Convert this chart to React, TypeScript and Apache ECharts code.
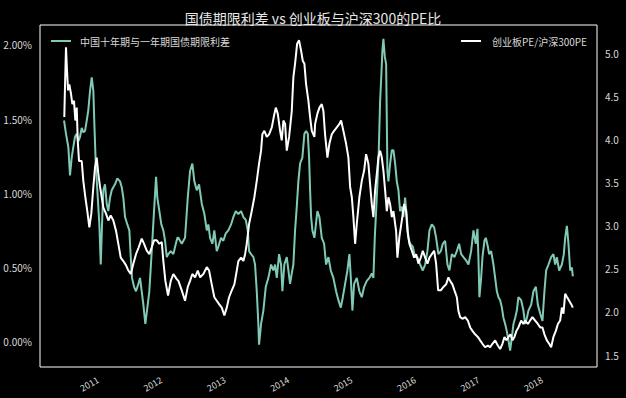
import React, { useEffect, useRef } from "react";
import * as echarts from "echarts";

const TITLE = "国债期限利差 vs 创业板与沪深300的PE比";
const SPREAD_NAME = "中国十年期与一年期国债期限利差";
const PE_NAME = "创业板PE/沪深300PE";

const YEAR_TICKS = [2011, 2012, 2013, 2014, 2015, 2016, 2017, 2018];
const LEFT_TICKS = [0, 0.5, 1, 1.5, 2];
const RIGHT_TICKS = [1.5, 2, 2.5, 3, 3.5, 4, 4.5, 5];

// [decimal year, spread %]
const spreadData: [number, number][] = [
  [2010.464,1.49],[2010.495,1.40],[2010.532,1.31],[2010.558,1.12],[2010.585,1.24],[2010.610,1.31],[2010.637,1.38],[2010.664,1.40],[2010.689,1.35],[2010.716,1.38],[2010.743,1.44],[2010.768,1.41],[2010.795,1.42],[2010.822,1.49],[2010.847,1.56],[2010.874,1.69],[2010.901,1.78],[2010.926,1.69],[2010.942,1.47],[2010.964,1.20],[2010.989,1.02],[2011.021,0.79],[2011.043,0.52],[2011.063,0.79],[2011.084,1.02],[2011.110,1.06],[2011.137,0.93],[2011.162,0.88],[2011.189,0.97],[2011.216,1.02],[2011.241,1.04],[2011.268,1.06],[2011.304,1.10],[2011.347,1.08],[2011.374,1.04],[2011.399,0.97],[2011.426,0.84],[2011.462,0.79],[2011.494,0.75],[2011.516,0.57],[2011.536,0.43],[2011.568,0.37],[2011.599,0.34],[2011.636,0.39],[2011.662,0.43],[2011.689,0.34],[2011.715,0.25],[2011.746,0.12],[2011.778,0.23],[2011.809,0.34],[2011.847,0.61],[2011.883,0.88],[2011.915,1.11],[2011.935,0.97],[2011.967,0.88],[2011.998,0.79],[2012.030,0.75],[2012.057,0.68],[2012.084,0.57],[2012.109,0.59],[2012.147,0.61],[2012.188,0.59],[2012.215,0.64],[2012.251,0.70],[2012.267,0.70],[2012.320,0.66],[2012.372,0.70],[2012.415,0.97],[2012.451,1.15],[2012.487,1.20],[2012.519,1.08],[2012.557,1.02],[2012.593,1.06],[2012.636,0.93],[2012.677,0.86],[2012.715,0.75],[2012.740,0.79],[2012.767,0.70],[2012.803,0.66],[2012.834,0.75],[2012.872,0.61],[2012.897,0.64],[2012.940,0.70],[2012.976,0.68],[2013.014,0.73],[2013.055,0.75],[2013.098,0.79],[2013.134,0.84],[2013.172,0.88],[2013.213,0.86],[2013.256,0.88],[2013.292,0.84],[2013.330,0.82],[2013.361,0.75],[2013.382,0.61],[2013.413,0.59],[2013.450,0.57],[2013.476,0.52],[2013.503,0.34],[2013.528,0.12],[2013.539,-0.02],[2013.571,0.12],[2013.607,0.21],[2013.645,0.37],[2013.686,0.43],[2013.729,0.52],[2013.765,0.48],[2013.792,0.52],[2013.819,0.43],[2013.855,0.59],[2013.886,0.52],[2013.907,0.34],[2013.938,0.52],[2013.976,0.57],[2014.002,0.48],[2014.028,0.39],[2014.055,0.46],[2014.080,0.52],[2014.107,0.75],[2014.134,0.91],[2014.159,1.08],[2014.186,1.20],[2014.222,1.24],[2014.254,1.40],[2014.281,1.42],[2014.308,1.40],[2014.328,1.24],[2014.344,1.02],[2014.360,0.84],[2014.380,0.75],[2014.412,0.70],[2014.459,0.88],[2014.491,0.84],[2014.528,0.70],[2014.565,0.66],[2014.596,0.52],[2014.633,0.57],[2014.670,0.48],[2014.711,0.43],[2014.754,0.34],[2014.790,0.28],[2014.828,0.23],[2014.860,0.30],[2014.896,0.39],[2014.932,0.48],[2014.964,0.59],[2014.986,0.43],[2015.011,0.21],[2015.038,0.39],[2015.080,0.43],[2015.121,0.34],[2015.159,0.30],[2015.196,0.37],[2015.238,0.41],[2015.279,0.43],[2015.317,0.46],[2015.342,0.43],[2015.364,0.70],[2015.385,0.88],[2015.405,1.06],[2015.427,1.29],[2015.448,1.62],[2015.468,1.80],[2015.484,1.96],[2015.500,2.04],[2015.522,1.92],[2015.543,1.87],[2015.563,1.15],[2015.579,1.08],[2015.606,1.20],[2015.633,1.29],[2015.658,1.29],[2015.685,1.20],[2015.711,1.08],[2015.737,1.02],[2015.763,0.88],[2015.790,0.91],[2015.815,0.84],[2015.842,0.97],[2015.869,0.84],[2015.894,0.70],[2015.921,0.66],[2015.964,0.64],[2016.000,0.57],[2016.036,0.57],[2016.079,0.52],[2016.121,0.48],[2016.158,0.52],[2016.194,0.61],[2016.226,0.75],[2016.263,0.79],[2016.300,0.77],[2016.331,0.70],[2016.367,0.59],[2016.405,0.61],[2016.437,0.66],[2016.473,0.68],[2016.510,0.52],[2016.541,0.48],[2016.579,0.59],[2016.620,0.57],[2016.658,0.61],[2016.694,0.66],[2016.726,0.59],[2016.762,0.57],[2016.800,0.55],[2016.841,0.52],[2016.883,0.61],[2016.920,0.75],[2016.957,0.66],[2016.983,0.76],[2016.998,0.57],[2017.014,0.30],[2017.041,0.43],[2017.062,0.57],[2017.093,0.68],[2017.115,0.70],[2017.147,0.64],[2017.167,0.59],[2017.199,0.61],[2017.235,0.52],[2017.262,0.43],[2017.289,0.34],[2017.314,0.30],[2017.341,0.28],[2017.368,0.23],[2017.393,0.16],[2017.420,0.12],[2017.446,0.07],[2017.472,0.01],[2017.498,-0.06],[2017.525,0.03],[2017.551,0.12],[2017.577,0.16],[2017.604,0.21],[2017.629,0.30],[2017.672,0.28],[2017.708,0.21],[2017.735,0.12],[2017.762,0.16],[2017.787,0.21],[2017.830,0.25],[2017.866,0.34],[2017.904,0.37],[2017.935,0.25],[2017.972,0.19],[2018.008,0.14],[2018.039,0.34],[2018.066,0.48],[2018.103,0.52],[2018.145,0.57],[2018.181,0.59],[2018.208,0.52],[2018.235,0.57],[2018.271,0.48],[2018.314,0.52],[2018.345,0.59],[2018.366,0.70],[2018.393,0.78],[2018.418,0.66],[2018.445,0.48],[2018.472,0.50],[2018.487,0.44],
];

// [decimal year, ChiNext PE / CSI300 PE]
const peData: [number, number][] = [
  [2010.468,4.26],[2010.484,4.76],[2010.495,5.07],[2010.511,4.80],[2010.527,4.57],[2010.547,4.64],[2010.574,4.53],[2010.595,4.41],[2010.621,4.45],[2010.642,4.22],[2010.664,4.37],[2010.680,3.99],[2010.700,3.75],[2010.743,3.75],[2010.768,3.52],[2010.800,3.33],[2010.831,3.17],[2010.863,2.98],[2010.894,3.14],[2010.926,3.45],[2010.953,3.68],[2010.979,3.79],[2011.005,3.60],[2011.032,3.45],[2011.058,3.33],[2011.084,3.21],[2011.126,3.14],[2011.162,3.06],[2011.200,3.12],[2011.241,3.06],[2011.284,2.94],[2011.320,2.79],[2011.358,2.63],[2011.399,2.59],[2011.442,2.54],[2011.478,2.48],[2011.516,2.44],[2011.557,2.56],[2011.599,2.67],[2011.642,2.75],[2011.689,2.85],[2011.726,2.79],[2011.768,2.71],[2011.809,2.67],[2011.847,2.75],[2011.883,2.83],[2011.926,2.83],[2011.967,2.79],[2012.005,2.81],[2012.030,2.59],[2012.062,2.36],[2012.104,2.19],[2012.147,2.36],[2012.188,2.44],[2012.241,2.38],[2012.267,2.36],[2012.320,2.25],[2012.372,2.13],[2012.415,2.29],[2012.451,2.36],[2012.487,2.44],[2012.530,2.40],[2012.573,2.48],[2012.609,2.40],[2012.661,2.44],[2012.715,2.52],[2012.751,2.48],[2012.793,2.32],[2012.834,2.17],[2012.872,2.13],[2012.909,2.09],[2012.951,2.05],[2012.992,1.96],[2013.030,2.05],[2013.066,2.17],[2013.109,2.25],[2013.150,2.32],[2013.188,2.48],[2013.213,2.59],[2013.256,2.63],[2013.292,2.59],[2013.319,2.67],[2013.345,2.79],[2013.382,3.02],[2013.424,3.17],[2013.465,3.33],[2013.503,3.52],[2013.539,3.72],[2013.571,3.87],[2013.591,4.06],[2013.623,4.10],[2013.661,4.03],[2013.697,4.06],[2013.740,4.14],[2013.771,4.26],[2013.803,4.37],[2013.834,4.30],[2013.871,4.10],[2013.897,3.99],[2013.923,4.22],[2013.950,4.18],[2013.976,3.87],[2014.013,4.03],[2014.055,4.33],[2014.080,4.72],[2014.107,4.88],[2014.139,5.11],[2014.170,5.15],[2014.202,5.03],[2014.229,4.91],[2014.254,4.88],[2014.281,4.64],[2014.317,4.45],[2014.344,4.26],[2014.371,4.10],[2014.412,4.03],[2014.423,4.18],[2014.459,4.30],[2014.491,4.37],[2014.528,4.41],[2014.554,4.33],[2014.580,4.06],[2014.617,3.79],[2014.648,3.95],[2014.686,4.06],[2014.722,4.10],[2014.765,4.14],[2014.806,4.18],[2014.833,4.22],[2014.869,4.10],[2014.912,3.95],[2014.948,3.79],[2014.975,3.45],[2015.002,3.33],[2015.027,3.10],[2015.054,2.79],[2015.080,3.02],[2015.121,3.33],[2015.159,3.52],[2015.196,3.64],[2015.227,3.83],[2015.263,3.72],[2015.290,3.48],[2015.317,3.25],[2015.342,3.10],[2015.369,3.41],[2015.396,3.60],[2015.421,3.79],[2015.448,3.87],[2015.475,3.79],[2015.500,3.64],[2015.527,3.41],[2015.554,3.17],[2015.579,3.33],[2015.606,3.25],[2015.633,3.10],[2015.658,3.17],[2015.700,2.94],[2015.721,2.63],[2015.752,2.87],[2015.790,3.06],[2015.827,3.25],[2015.858,3.17],[2015.879,2.94],[2015.910,2.79],[2015.948,2.71],[2015.984,2.63],[2016.016,2.67],[2016.052,2.56],[2016.090,2.63],[2016.121,2.71],[2016.158,2.63],[2016.194,2.56],[2016.226,2.63],[2016.263,2.67],[2016.300,2.71],[2016.331,2.56],[2016.363,2.25],[2016.405,2.25],[2016.446,2.29],[2016.489,2.32],[2016.525,2.40],[2016.552,2.36],[2016.588,2.32],[2016.620,2.25],[2016.658,2.17],[2016.683,2.01],[2016.710,1.94],[2016.746,1.92],[2016.789,1.94],[2016.831,1.90],[2016.868,1.82],[2016.904,1.78],[2016.946,1.74],[2016.989,1.71],[2017.025,1.67],[2017.062,1.63],[2017.104,1.59],[2017.147,1.61],[2017.183,1.59],[2017.219,1.63],[2017.262,1.67],[2017.304,1.61],[2017.341,1.57],[2017.377,1.63],[2017.409,1.71],[2017.440,1.67],[2017.472,1.71],[2017.503,1.74],[2017.535,1.67],[2017.566,1.71],[2017.598,1.78],[2017.629,1.82],[2017.672,1.90],[2017.708,1.86],[2017.735,1.90],[2017.778,1.86],[2017.814,1.90],[2017.850,1.94],[2017.893,1.90],[2017.935,1.86],[2017.972,1.82],[2018.008,1.82],[2018.039,1.74],[2018.077,1.67],[2018.114,1.63],[2018.145,1.59],[2018.181,1.71],[2018.219,1.78],[2018.251,1.86],[2018.287,1.90],[2018.314,2.05],[2018.339,1.98],[2018.366,2.21],[2018.397,2.17],[2018.429,2.13],[2018.461,2.09],[2018.487,2.05],
];

const FONT = "'Noto Sans CJK SC', 'Noto Sans', sans-serif";
const TEAL = "#80c9b6";
const WHITE = "#ffffff";
const TXT = "#d8d8d8";

export default function App() {
  const ref = useRef<HTMLDivElement>(null);
  useEffect(() => {
    if (!ref.current) return;
    const chart = echarts.init(ref.current, null, { renderer: "svg" });
    chart.setOption({
      animation: false,
      backgroundColor: "#000000",
      textStyle: { fontFamily: FONT },
      title: {
        text: TITLE,
        left: "center",
        top: 6,
        textStyle: { color: "#e6e6e6", fontSize: 14, fontWeight: "normal", fontFamily: FONT },
      },
      legend: [
        {
          data: [SPREAD_NAME],
          left: 46,
          top: 31,
          icon: "rect",
          itemWidth: 20,
          itemHeight: 2,
          textStyle: { color: TXT, fontSize: 10, fontFamily: FONT, padding: [0, 0, 0, 4] },
        },
        {
          data: [PE_NAME],
          right: 34,
          top: 31,
          icon: "rect",
          itemWidth: 20,
          itemHeight: 2,
          textStyle: { color: TXT, fontSize: 10, fontFamily: FONT, padding: [0, 0, 0, 6] },
        },
      ],
      grid: {
        left: 40,
        right: 29,
        top: 25,
        bottom: 31,
        show: true,
        borderColor: "#ffffff",
        borderWidth: 1,
        backgroundColor: "transparent",
      },
      xAxis: {
        type: "value",
        min: 2010.085,
        max: 2018.868,
        axisLine: { show: false },
        axisTick: { show: false },
        splitLine: { show: false },
        axisLabel: {
          customValues: YEAR_TICKS,
          formatter: (v: number) => String(Math.round(v)),
          rotate: 30,
          margin: 12,
          color: TXT,
          fontSize: 9,
          fontFamily: FONT,
        },
      },
      yAxis: [
        {
          type: "value",
          min: -0.17,
          max: 2.133,
          position: "left",
          axisLine: { show: false },
          axisTick: { show: false },
          splitLine: { show: false },
          axisLabel: {
            customValues: LEFT_TICKS,
            formatter: (v: number) => v.toFixed(2) + "%",
            margin: 8,
            color: TXT,
            fontSize: 10,
            fontFamily: FONT,
          },
        },
        {
          type: "value",
          min: 1.361,
          max: 5.328,
          position: "right",
          axisLine: { show: false },
          axisTick: { show: false },
          splitLine: { show: false },
          axisLabel: {
            customValues: RIGHT_TICKS,
            formatter: (v: number) => v.toFixed(1),
            margin: 8,
            color: TXT,
            fontSize: 10,
            fontFamily: FONT,
          },
        },
      ],
      series: [
        {
          name: SPREAD_NAME,
          type: "line",
          yAxisIndex: 0,
          data: spreadData,
          showSymbol: false,
          color: TEAL,
          lineStyle: { color: TEAL, width: 2 },
        },
        {
          name: PE_NAME,
          type: "line",
          yAxisIndex: 1,
          data: peData,
          showSymbol: false,
          color: WHITE,
          lineStyle: { color: WHITE, width: 2 },
        },
      ],
    });
    return () => chart.dispose();
  }, []);
  return (
    <div style={{ position: "fixed", left: 0, top: 0, width: 626, height: 398, background: "#000" }}>
      <div ref={ref} style={{ width: 626, height: 398 }} />
    </div>
  );
}
